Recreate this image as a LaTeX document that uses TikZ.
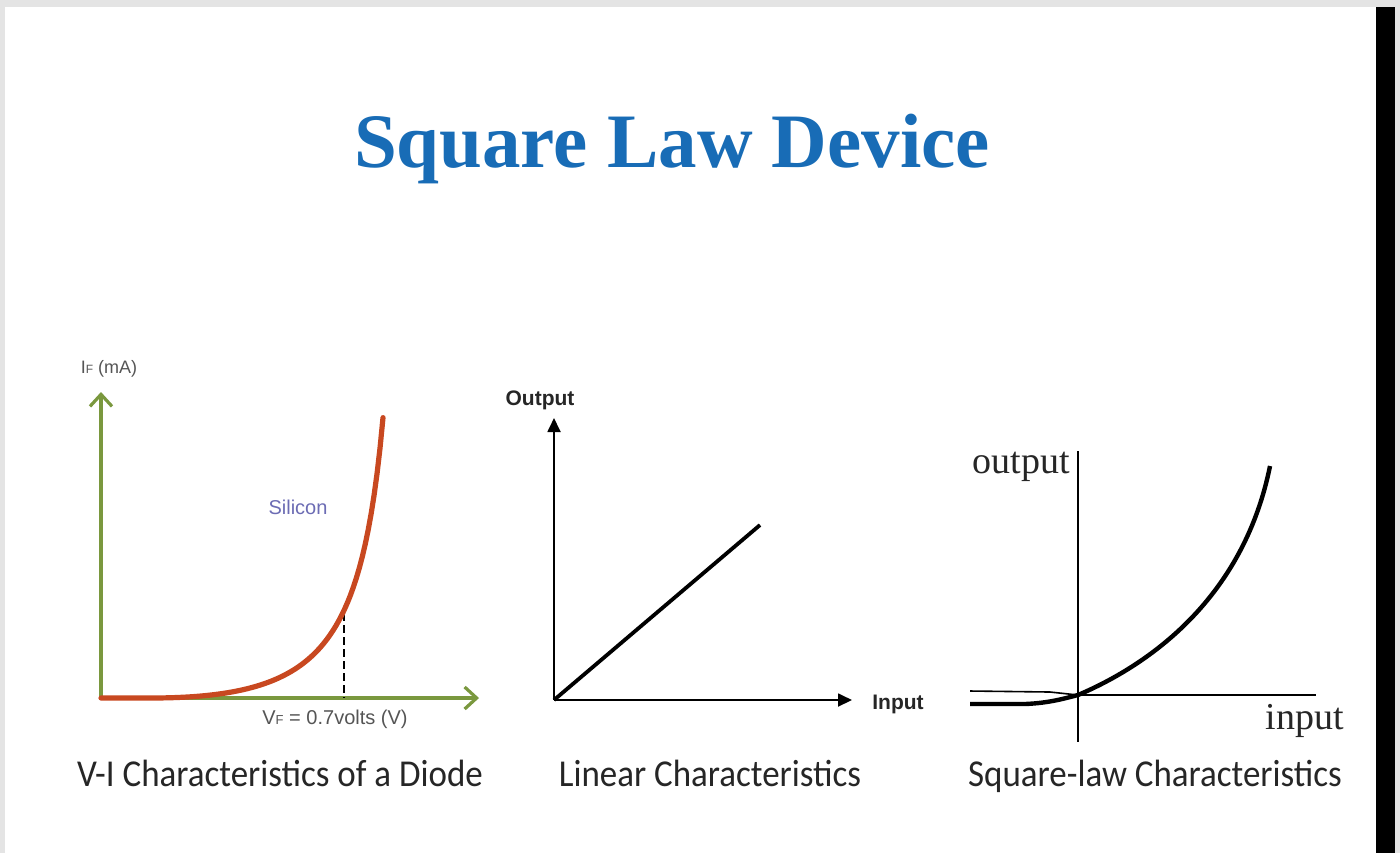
\documentclass[tikz,border=0pt]{standalone}
\usepackage{fontspec}
\setmainfont{Liberation Serif}
\newfontfamily\capfont{Carlito}
\newfontfamily\arialfont{Liberation Sans}
\usetikzlibrary{arrows.meta}
\definecolor{titleblue}{RGB}{24,108,182}
\definecolor{axisgreen}{RGB}{122,152,62}
\definecolor{curvered}{RGB}{200,72,32}
\definecolor{siliconblue}{RGB}{108,108,180}
\definecolor{framegray}{RGB}{228,228,228}
\definecolor{labelgray}{RGB}{85,85,85}
\tikzset{
  greenaxis/.style={draw=axisgreen, line width=1.6pt, -{Straight Barb[length=6pt,width=11pt,line width=1.6pt]}},
  blackaxis/.style={draw=black, line width=0.9pt, -{Triangle[length=7pt,width=6.5pt]}},
  caption/.style={font=\capfont\fontsize{19}{22}\selectfont, text=black!85, anchor=base, inner sep=0pt},
  smalllabel/.style={font=\arialfont\fontsize{10}{12}\selectfont, text=labelgray, inner sep=0pt},
  boldlabel/.style={font=\arialfont\bfseries\fontsize{10.5}{12}\selectfont, text=black!85, inner sep=0pt},
  seriflabel/.style={font=\fontsize{19}{21}\selectfont, text=black!85, inner sep=0pt}
}
\newcommand{\narrow}[1]{\scalebox{0.92}[1]{#1}}
\begin{document}
\begin{tikzpicture}[x=0.5pt, y=-0.5pt]
  % page frame
  \fill[framegray] (0,0) rectangle (1400,853);
  \fill[white] (5,7) rectangle (1376,853);
  \fill[black] (1376,7) rectangle (1395,853);
  \useasboundingbox (0,0) rectangle (1400,853);

  % title
  \node[font=\bfseries\fontsize{38.5}{41}\selectfont, text=titleblue, anchor=base, inner sep=0pt] (title) at (672,167) {Square Law Device};

  % ---- diode V-I characteristic ----
  \coordinate (dO) at (101,698);
  \coordinate (dY) at (101,392);
  \coordinate (dX) at (479,698);
  \draw[greenaxis] (dO) -- (dY);
  \draw[greenaxis] (dO) -- (dX);
  \coordinate (knee) at (344,613);
  \coordinate (kneefoot) at (344,698);
  \draw[black, line width=1pt, dashed, dash pattern=on 4pt off 2pt] (knee) -- (kneefoot);
  % forward current: flat, then rising ever more steeply
  \draw[curvered, line width=2.6pt, line cap=round, line join=round]
    (dO) -- (150,698) -- plot[domain=150:383, samples=80]
      (\x, {698 - 43.8*((\x-150)/265)^2/(1-(\x-150)/265)});
  \node[smalllabel, font=\arialfont\fontsize{9}{10}\selectfont] (iflabel) at (109,369) {I\textsc{\fontsize{6}{7}\selectfont F} (mA)};
  \node[smalllabel, text=siliconblue] (silicon) at (298,507) {Silicon};
  \node[smalllabel] (vflabel) at (335,719) {V\textsc{\fontsize{6.5}{7}\selectfont F} = 0.7volts (V)};

  % ---- linear characteristic ----
  \coordinate (lO) at (554,700);
  \coordinate (lY) at (554,418);
  \coordinate (lX) at (852,700);
  \coordinate (lE) at (760,525);
  \draw[blackaxis] (lO) -- (lY);
  \draw[blackaxis] (lO) -- (lX);
  \draw[black, line width=1.9pt] (lO) -- (lE);
  \node[boldlabel] (outlabel) at (540,400) {Output};
  \node[boldlabel] (inlabel) at (898,704) {Input};

  % ---- square-law characteristic ----
  \coordinate (sO) at (1078,695);
  \coordinate (sT) at (1078,451);
  \coordinate (sB) at (1078,742);
  \coordinate (sR) at (1316,695);
  \draw[black, line width=1pt] (sT) -- (sB);
  \draw[black, line width=1pt] (sO) -- (sR);
  \draw[black, line width=0.8pt] (970,691) -- (1050,692) -- (sO);
  \draw[black, line width=2.2pt]
    (970,704) -- (1025,704) .. controls (1050,703) and (1066,698) .. (sO)
    .. controls (1160,660) and (1245,590) .. (1270,466);
  \node[seriflabel] (soutlabel) at (1021,467) {output};
  \node[seriflabel] (sinlabel) at (1305,721) {input};

  % ---- captions ----
  \node[caption] (cap1) at (280,786) {\narrow{V-I Characteristics of a Diode}};
  \node[caption] (cap2) at (710,786) {\narrow{Linear Characteristics}};
  \node[caption] (cap3) at (1155,786) {\narrow{Square-law Characteristics}};
\end{tikzpicture}
\end{document}
